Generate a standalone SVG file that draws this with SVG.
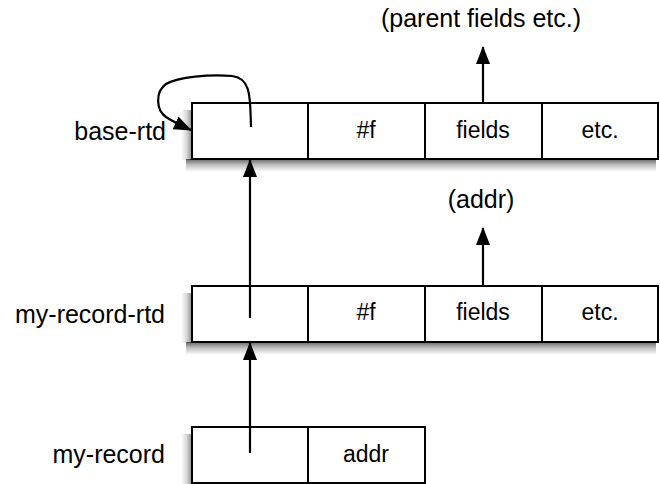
<svg xmlns="http://www.w3.org/2000/svg" width="660" height="484" viewBox="0 0 660 484">
<style>
.cell{fill:#fff;stroke:#000;stroke-width:2}
.lbl{font-family:"Liberation Sans",Arial,sans-serif;font-size:25px;fill:#000}
.ct{font-family:"Liberation Sans",Arial,sans-serif;font-size:23px;fill:#000;text-anchor:middle}
.conn{fill:none;stroke:#000;stroke-width:2.2}
.div{stroke:#000;stroke-width:2}
.shb{fill:url(#gb)}
.shl{fill:url(#gl)}
</style>
<defs>
<linearGradient id="gb" x1="0" y1="0" x2="0" y2="1">
<stop offset="0" stop-color="#000" stop-opacity="0.6"/>
<stop offset="0.45" stop-color="#000" stop-opacity="0.25"/>
<stop offset="1" stop-color="#000" stop-opacity="0"/>
</linearGradient>
<linearGradient id="gl" x1="1" y1="0" x2="0" y2="0">
<stop offset="0" stop-color="#000" stop-opacity="0.45"/>
<stop offset="0.5" stop-color="#000" stop-opacity="0.15"/>
<stop offset="1" stop-color="#000" stop-opacity="0"/>
</linearGradient>
<marker id="ah" viewBox="0 0 18 14" refX="17" refY="7" markerWidth="18" markerHeight="14" markerUnits="userSpaceOnUse" orient="auto">
<path d="M0,0 L18,7 L0,14 Z" fill="#000"/>
</marker>
</defs>
<rect width="660" height="484" fill="#fff"/>
<g id="base-rtd">
<rect class="shb" x="186" y="159" width="470" height="13"/>
<rect class="shl" x="181" y="110" width="11" height="50"/>
<rect class="cell" x="192" y="103" width="466" height="56"/>
<line class="div" x1="308" y1="103" x2="308" y2="159"/>
<line class="div" x1="425" y1="103" x2="425" y2="159"/>
<line class="div" x1="542" y1="103" x2="542" y2="159"/>
<text class="lbl" x="166" y="140" text-anchor="end">base-rtd</text>
<text class="ct" x="366" y="138">#f</text>
<text class="ct" x="483" y="138">fields</text>
<text class="ct" x="600" y="138">etc.</text>
</g>
<g id="my-record-rtd">
<rect class="shb" x="186" y="342" width="470" height="13"/>
<rect class="shl" x="181" y="293" width="11" height="50"/>
<rect class="cell" x="192" y="286" width="466" height="56"/>
<line class="div" x1="308" y1="286" x2="308" y2="342"/>
<line class="div" x1="425" y1="286" x2="425" y2="342"/>
<line class="div" x1="542" y1="286" x2="542" y2="342"/>
<text class="lbl" x="165" y="323" text-anchor="end">my-record-rtd</text>
<text class="ct" x="366" y="320">#f</text>
<text class="ct" x="483" y="320">fields</text>
<text class="ct" x="600" y="320">etc.</text>
</g>
<g id="my-record">
<rect class="shl" x="181" y="434" width="11" height="50"/>
<rect class="cell" x="192" y="427" width="233" height="56"/>
<line class="div" x1="308" y1="427" x2="308" y2="483"/>
<text class="lbl" x="165" y="463" text-anchor="end">my-record</text>
<text class="ct" x="366" y="462">addr</text>
</g>
<g id="parent-fields">
<text class="lbl" x="481" y="27" text-anchor="middle">(parent fields etc.)</text>
</g>
<g id="addr-list">
<text class="lbl" x="481" y="208" text-anchor="middle">(addr)</text>
</g>
<g id="connectors">
<path class="conn" d="M250,453 L250,343" marker-end="url(#ah)"/>
<path class="conn" d="M250,318 L250,160" marker-end="url(#ah)"/>
<path class="conn" d="M483,103 L483,47" marker-end="url(#ah)"/>
<path class="conn" d="M483,286 L483,228" marker-end="url(#ah)"/>
<path class="conn" d="M251,127 C250,100 252,78 232,76 C210,74 178,77 166,84 C155,92 156,110 166,117 C172,121 180,125 191,130" marker-end="url(#ah)"/>
</g>
</svg>
